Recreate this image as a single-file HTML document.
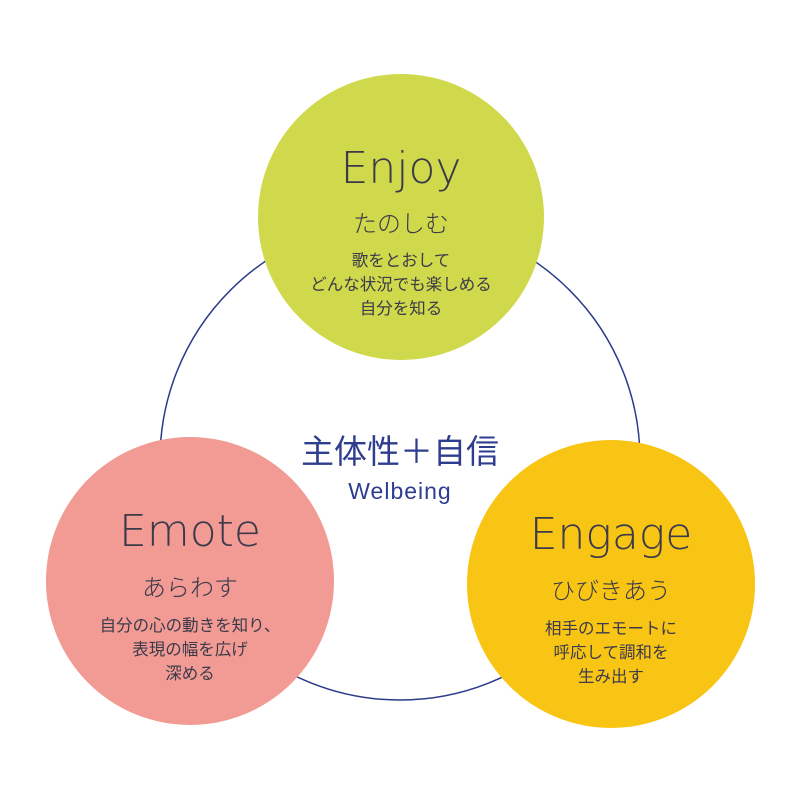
<!DOCTYPE html>
<html><head><meta charset="utf-8"><style>
html,body{margin:0;padding:0;background:#fff;}
body{width:800px;height:800px;position:relative;overflow:hidden;font-family:"Liberation Sans","Noto Sans CJK JP",sans-serif;}
.t{position:absolute;width:400px;text-align:center;white-space:nowrap;}
.h{font-family:"DejaVu Sans","Liberation Sans",sans-serif;font-weight:200;font-size:44px;color:#3b3a4a;}
.s{font-size:24px;color:#3b3a4a;font-family:"Noto Sans CJK JP",sans-serif;font-weight:300;}
.b{font-size:16.5px;line-height:24px;color:#3b3a4a;font-family:"Noto Sans CJK JP",sans-serif;}
</style></head><body>
<svg width="800" height="800" style="position:absolute;left:0;top:0">
<circle cx="400" cy="460" r="240" fill="none" stroke="#2b3a8a" stroke-width="1.5"/>
<circle cx="401" cy="217" r="143" fill="#cfd94b"/>
<circle cx="190" cy="581" r="144" fill="#f19b94"/>
<circle cx="611" cy="584" r="144" fill="#f8c515"/>
</svg>
<div class="t h" style="left:201px;top:143px">Enjoy</div>
<div class="t s" style="left:201px;top:204px">たのしむ</div>
<div class="t b" style="left:201px;top:247px">歌をとおして<br>どんな状況でも楽しめる<br>自分を知る</div>
<div class="t" style="left:200px;top:425px;font-size:33px;color:#2f3d8f;font-family:'Noto Sans CJK JP',sans-serif">主体性＋自信</div>
<div class="t" style="left:200px;top:478px;font-size:23px;letter-spacing:1px;color:#2f3d8f">Welbeing</div>
<div class="t h" style="left:-10px;top:506px">Emote</div>
<div class="t s" style="left:-10px;top:568px">あらわす</div>
<div class="t b" style="left:-10px;top:612px">自分の心の動きを知り、<br>表現の幅を広げ<br>深める</div>
<div class="t h" style="left:411px;top:509px">Engage</div>
<div class="t s" style="left:411px;top:571px">ひびきあう</div>
<div class="t b" style="left:411px;top:615px">相手のエモートに<br>呼応して調和を<br>生み出す</div>
</body></html>
